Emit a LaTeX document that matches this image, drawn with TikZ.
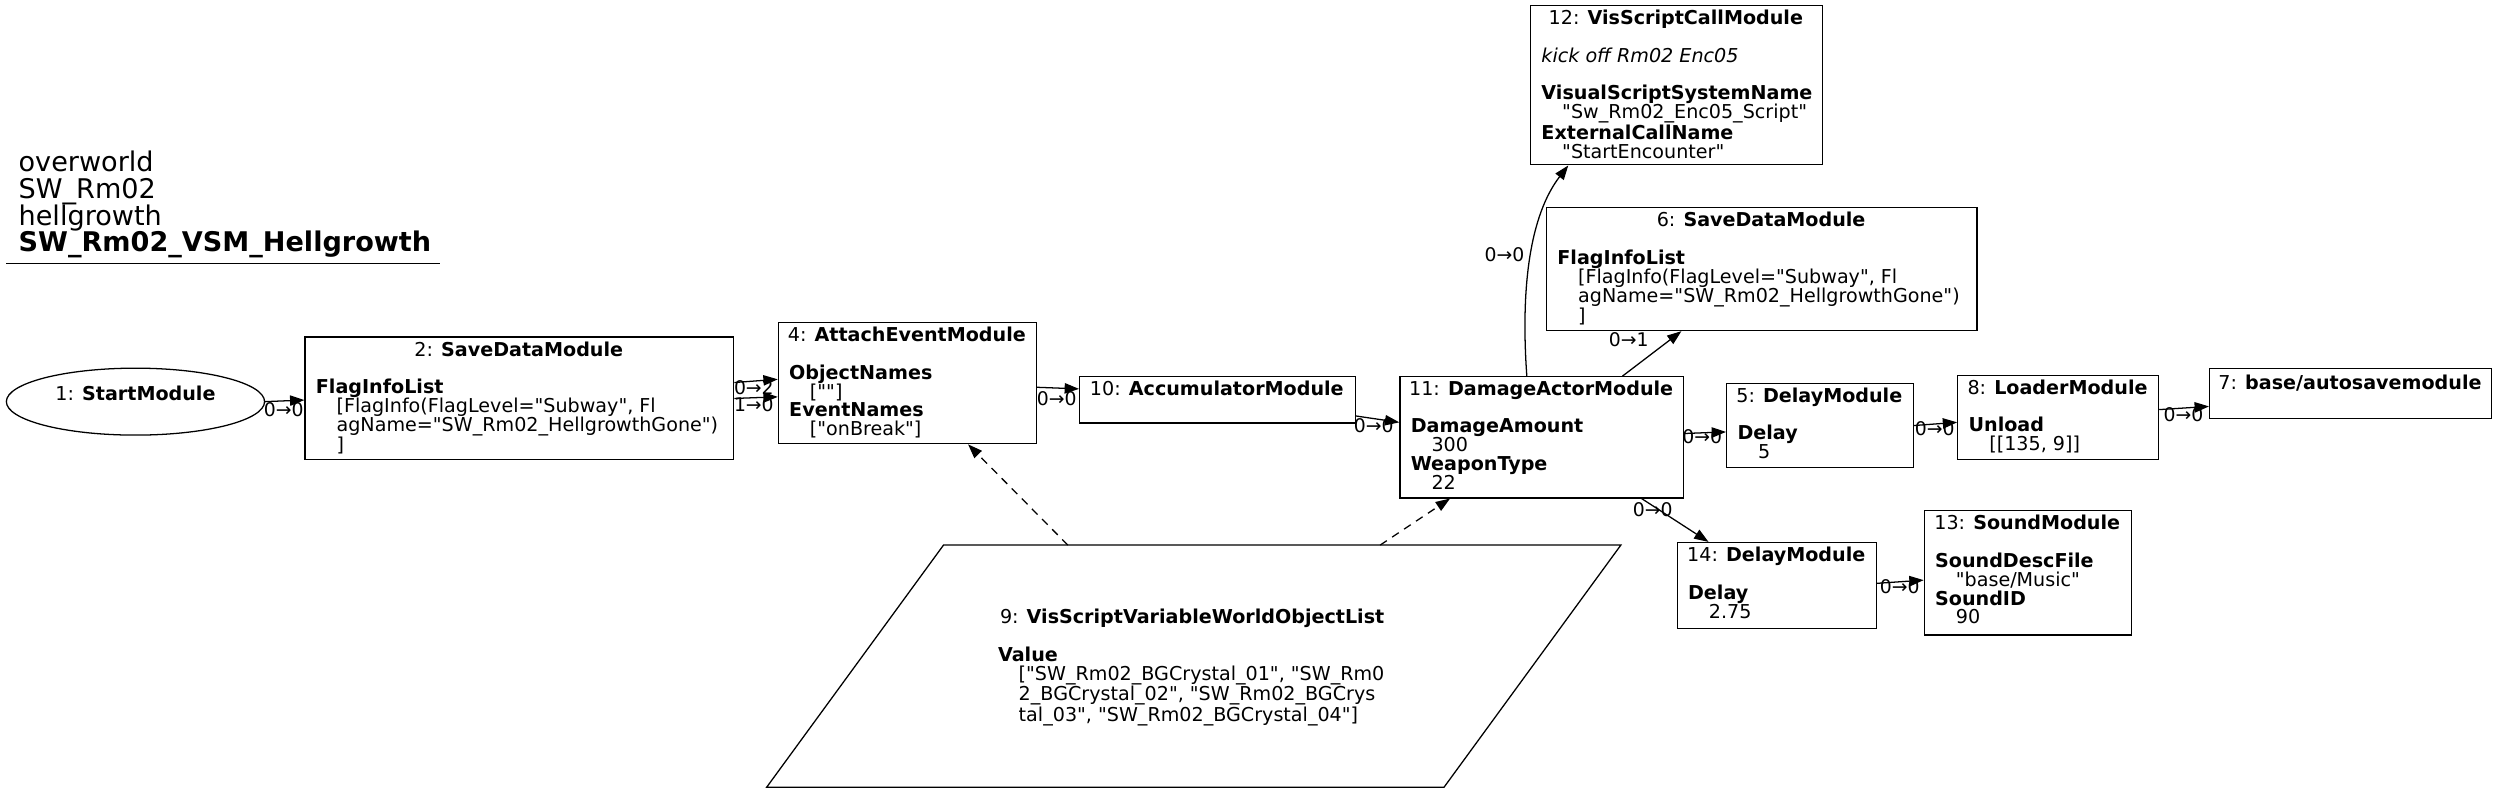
\documentclass[tikz,border=0pt]{standalone}
\usepackage{fontspec}
\setmainfont{DejaVu Sans}[Ligatures=TeXOff]
\usetikzlibrary{arrows.meta,shapes.geometric}
\newcommand{\myind}{\hspace*{13pt}}
\begin{document}
\begin{tikzpicture}[x=1pt,y=-1pt,
  box/.style={draw, line width=0.8pt, inner sep=0pt, anchor=north west},
  ttl/.style={anchor=base, inner sep=0pt, font=\fontsize{12}{11.8}\selectfont},
  bdy/.style={anchor=north west, inner sep=0pt, align=left, font=\fontsize{12}{11.8}\selectfont},
  lbl/.style={inner sep=0pt, font=\fontsize{11.8}{12}\selectfont},
  hdr/.style={anchor=base west, inner sep=0pt, font=\fontsize{17}{17}\selectfont},
  edge/.style={line width=0.8pt, -{Triangle[length=9pt,width=6.5pt]}},
  dedge/.style={edge, dash pattern=on 5pt off 4pt},
]
\useasboundingbox (0,0) rectangle (1568,499);

% header
\node[hdr] (h1) at (11.5,107.7) {overworld};
\node[hdr] (h2) at (11.5,124.5) {SW\_Rm02};
\node[hdr] (h3) at (11.5,141.3) {hellgrowth};
\node[hdr] (h4) at (11.5,158) {\bfseries SW\_Rm02\_VSM\_Hellgrowth};
\draw[line width=0.8pt] (4,165.2) -- (276,165.2);

% node 1
\node[draw, ellipse, line width=0.8pt, minimum width=162pt, minimum height=42pt, inner sep=0pt] (n1) at (85,252) {};
\node[ttl] (n1t) at (85,251) {1: \textbf{StartModule}};

% node 2
\node[box, minimum width=269pt, minimum height=77pt] (n2) at (191,211) {};
\node[ttl] (n2t) at (325.5,223.4) {2: \textbf{SaveDataModule}};
\node[bdy] (n2b) at (198,237.7) {\textbf{FlagInfoList}\\ \myind[FlagInfo(FlagLevel="Subway", Fl\\ \myind agName="SW\_Rm02\_HellgrowthGone")\\ \myind]};

% node 4
\node[box, minimum width=162pt, minimum height=76pt] (n4) at (488,202) {};
\node[ttl] (n4t) at (569,214.4) {4: \textbf{AttachEventModule}};
\node[bdy] (n4b) at (495,228.7) {\textbf{ObjectNames}\\ \myind[""]\\ \textbf{EventNames}\\ \myind["onBreak"]};

% node 10
\node[box, minimum width=173pt, minimum height=29pt] (n10) at (677,236) {};
\node[ttl] (n10t) at (763.5,248.4) {10: \textbf{AccumulatorModule}};

% node 11
\node[box, minimum width=178pt, minimum height=76pt] (n11) at (878,236) {};
\node[ttl] (n11t) at (967,248.4) {11: \textbf{DamageActorModule}};
\node[bdy] (n11b) at (885,262.7) {\textbf{DamageAmount}\\ \myind 300\\ \textbf{WeaponType}\\ \myind 22};

% node 12
\node[box, minimum width=183pt, minimum height=100pt] (n12) at (960,3) {};
\node[ttl] (n12t) at (1051.5,15.4) {12: \textbf{VisScriptCallModule}};
\node[bdy] (n12b) at (967,29.7) {\textit{kick off Rm02 Enc05}\\ \mbox{}\\ \textbf{VisualScriptSystemName}\\ \myind"Sw\_Rm02\_Enc05\_Script"\\ \textbf{ExternalCallName}\\ \myind"StartEncounter"};

% node 6
\node[box, minimum width=270pt, minimum height=77pt] (n6) at (970,130) {};
\node[ttl] (n6t) at (1105,142.4) {6: \textbf{SaveDataModule}};
\node[bdy] (n6b) at (977,156.7) {\textbf{FlagInfoList}\\ \myind[FlagInfo(FlagLevel="Subway", Fl\\ \myind agName="SW\_Rm02\_HellgrowthGone")\\ \myind]};

% node 5
\node[box, minimum width=117pt, minimum height=53pt] (n5) at (1083,240) {};
\node[ttl] (n5t) at (1141.5,252.4) {5: \textbf{DelayModule}};
\node[bdy] (n5b) at (1090,266.7) {\textbf{Delay}\\ \myind 5};

% node 8
\node[box, minimum width=126pt, minimum height=53pt] (n8) at (1228,235) {};
\node[ttl] (n8t) at (1291,247.4) {8: \textbf{LoaderModule}};
\node[bdy] (n8b) at (1235,261.7) {\textbf{Unload}\\ \myind[[135, 9]]};

% node 7
\node[box, minimum width=177pt, minimum height=31pt] (n7) at (1386,231) {};
\node[ttl] (n7t) at (1474.5,244.4) {7: \textbf{base/autosavemodule}};

% node 14
\node[box, minimum width=125pt, minimum height=54pt] (n14) at (1052,340) {};
\node[ttl] (n14t) at (1114.5,352.4) {14: \textbf{DelayModule}};
\node[bdy] (n14b) at (1059,366.7) {\textbf{Delay}\\ \myind 2.75};

% node 13
\node[box, minimum width=130pt, minimum height=78pt] (n13) at (1207,320) {};
\node[ttl] (n13t) at (1272,332.4) {13: \textbf{SoundModule}};
\node[bdy] (n13b) at (1214,346.7) {\textbf{SoundDescFile}\\ \myind"base/Music"\\ \textbf{SoundID}\\ \myind 90};

% node 9 (parallelogram)
\draw[line width=0.8pt] (592,342) -- (1017,342) -- (906,494) -- (481,494) -- cycle;
\node[ttl] (n9t) at (748,391.4) {9: \textbf{VisScriptVariableWorldObjectList}};
\node[bdy] (n9b) at (626,405.7) {\textbf{Value}\\ \myind["SW\_Rm02\_BGCrystal\_01", "SW\_Rm0\\ \myind 2\_BGCrystal\_02", "SW\_Rm02\_BGCrys\\ \myind tal\_03", "SW\_Rm02\_BGCrystal\_04"]};
\coordinate (n9a) at (670,342);
\coordinate (n9c) at (866,342);

% edges
\draw[edge] (n1.east) -- (n2.west |- 0,251);
\node[lbl] (l1) at (178,257) {0→0};
\draw[edge] (n2.east |- 0,240) -- (n4.west |- 0,238);
\node[lbl] (l2a) at (473,243) {0→2};
\draw[edge] (n2.east |- 0,250) -- (n4.west |- 0,249);
\node[lbl] (l2b) at (473,254) {1→0};
\draw[edge] (n4.east |- 0,243) -- (n10.west |- 0,244);
\node[lbl] (l4) at (663,250) {0→0};
\draw[edge] (n10.east |- 0,261) -- (n11.west |- 0,265);
\node[lbl] (l10) at (862,267) {0→0};
\draw[edge] (n11.north -| 958,0) .. controls (954,180) and (960,135) .. (n12.south -| 984,0);
\node[lbl] (l12) at (944,160) {0→0};
\draw[edge] (n11.north -| 1018,0) -- (n6.south -| 1055,0);
\node[lbl] (l6) at (1022,213) {0→1};
\draw[edge] (n11.east |- 0,272) -- (n5.west |- 0,271);
\node[lbl] (l5) at (1068,274) {0→0};
\draw[edge] (n5.east |- 0,267) -- (n8.west |- 0,265);
\node[lbl] (l8) at (1214,269) {0→0};
\draw[edge] (n8.east |- 0,257) -- (n7.west |- 0,255);
\node[lbl] (l7) at (1370,260) {0→0};
\draw[edge] (n11.south -| 1030,0) -- (n14.north -| 1072,0);
\node[lbl] (l14) at (1037,320) {0→0};
\draw[edge] (n14.east |- 0,366) -- (n13.west |- 0,364);
\node[lbl] (l13) at (1192,368) {0→0};
\draw[dedge] (n9a) -- (n4);
\draw[dedge] (n9c) -- (n11);
\end{tikzpicture}
\end{document}
